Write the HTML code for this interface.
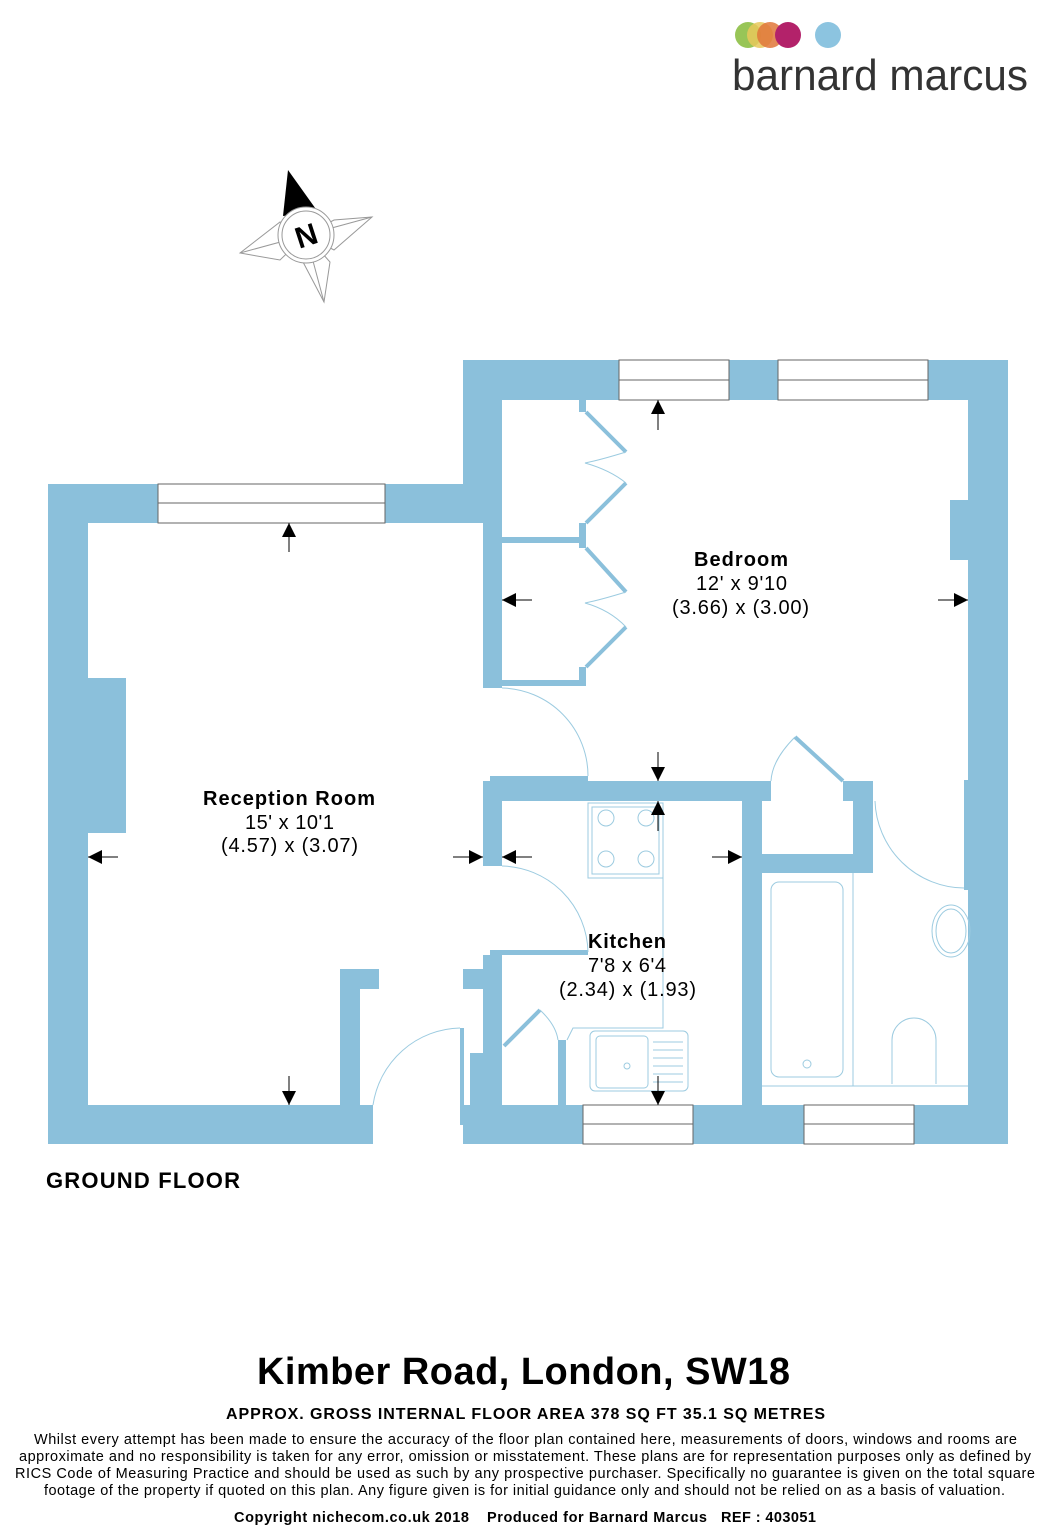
<!DOCTYPE html>
<html><head><meta charset="utf-8"><style>
html,body{margin:0;padding:0;background:#fff;}
body{width:1053px;height:1536px;position:relative;overflow:hidden;font-family:"Liberation Sans",sans-serif;}
</style></head><body>
<svg width="1053" height="1536" viewBox="0 0 1053 1536" xmlns="http://www.w3.org/2000/svg" style="position:absolute;left:0;top:0">
<defs>
<marker id="a" viewBox="0 0 10 10" refX="10" refY="5" markerWidth="14" markerHeight="14" markerUnits="userSpaceOnUse" orient="auto"><path d="M0,0L10,5L0,10z" fill="#000"/></marker>
</defs>
<!-- logo -->
<circle cx="748" cy="35" r="13" fill="#8dbf45" opacity="0.9"/>
<circle cx="760" cy="35" r="13" fill="#e8c85a" opacity="0.85"/>
<circle cx="770" cy="35" r="13" fill="#e0773a" opacity="0.85"/>
<circle cx="788" cy="35" r="13" fill="#b3226a"/>
<circle cx="828" cy="35" r="13" fill="#8cc4e0"/>
<text x="732" y="90" font-family="Liberation Sans,sans-serif" font-size="44" fill="#333" textLength="296" lengthAdjust="spacingAndGlyphs">barnard marcus</text>
<!-- compass -->
<g stroke="#999" stroke-width="1" fill="#fff">
<polygon points="372,217 334,250 306,235 334,220"/><line x1="372" y1="217" x2="306" y2="235"/>
<polygon points="324,302 303,262 306,235 330,262"/><line x1="324" y1="302" x2="306" y2="235"/>
<polygon points="240,253 280,222 306,235 280,260"/><line x1="240" y1="253" x2="306" y2="235"/>
</g>
<polygon points="288,170 318,212 283,216" fill="#000"/>
<circle cx="306" cy="235" r="28" fill="#fff" stroke="#999"/>
<circle cx="306" cy="235" r="24" fill="none" stroke="#999"/>
<text x="306" y="246" font-size="30" font-weight="bold" text-anchor="middle" transform="rotate(-18 306 235)">N</text>
<!-- walls -->
<g fill="#8bc0db">
<rect x="48" y="484" width="415" height="39"/>
<rect x="48" y="484" width="40" height="660"/>
<rect x="88" y="678" width="38" height="155"/>
<rect x="48" y="1105" width="325" height="39"/>
<rect x="340" y="969" width="20" height="140"/>
<rect x="340" y="969" width="39" height="20"/>
<rect x="463" y="360" width="545" height="40"/>
<rect x="463" y="360" width="39" height="163"/>
<rect x="483" y="500" width="19" height="188"/>
<rect x="968" y="360" width="40" height="784"/>
<rect x="950" y="500" width="20" height="60"/>
<rect x="964" y="780" width="6" height="110"/>
<rect x="502" y="537" width="80" height="6"/>
<rect x="502" y="680" width="84" height="6"/>
<rect x="579" y="400" width="7" height="12"/>
<rect x="579" y="523" width="7" height="25"/>
<rect x="579" y="667" width="7" height="19"/>
<rect x="483" y="781" width="288" height="20"/>
<rect x="490" y="776" width="98" height="5"/>
<rect x="483" y="781" width="19" height="85"/>
<rect x="843" y="781" width="30" height="20"/>
<rect x="853" y="781" width="20" height="92"/>
<rect x="762" y="854" width="111" height="19"/>
<rect x="742" y="781" width="20" height="330"/>
<rect x="463" y="969" width="20" height="20"/>
<rect x="483" y="955" width="19" height="155"/>
<rect x="470" y="1053" width="13" height="55"/>
<rect x="463" y="1105" width="545" height="39"/>
<rect x="558" y="1040" width="8" height="70"/>
<rect x="460" y="1028" width="4" height="97"/>
<rect x="490" y="950" width="98" height="5"/>
</g>
<!-- windows -->
<g fill="#fff" stroke="#666" stroke-width="1">
<rect x="158" y="484" width="227" height="39"/><line x1="158" y1="503" x2="385" y2="503"/>
<rect x="619" y="360" width="110" height="40"/><line x1="619" y1="380" x2="729" y2="380"/>
<rect x="778" y="360" width="150" height="40"/><line x1="778" y1="380" x2="928" y2="380"/>
<rect x="583" y="1105" width="110" height="39"/><line x1="583" y1="1124" x2="693" y2="1124"/>
<rect x="804" y="1105" width="110" height="39"/><line x1="804" y1="1124" x2="914" y2="1124"/>
</g>
<!-- doors / fixtures -->
<g fill="none" stroke="#8bc0db" stroke-width="4">
<path d="M586,412L626,452M586,523L626,483M586,548L626,592M586,667L626,627"/>
<path d="M504,1046L540,1010M795,737L843,781"/>
</g>
<g fill="none" stroke="#9ccbe0" stroke-width="1">
<path d="M626,452Q600,460 585,463Q610,470 626,483"/>
<path d="M626,592Q600,600 585,603Q610,610 626,627"/>
<path d="M502,688A88,88 0 0 1 588,776"/>
<path d="M502,866A88,88 0 0 1 588,952"/>
<path d="M373,1105A90,90 0 0 1 460,1028"/>
<path d="M540,1010Q556,1025 558,1040"/>
<path d="M795,737Q772,760 771,781"/>
<path d="M875,801A90,90 0 0 0 964,888"/>
<rect x="588" y="803" width="75" height="75"/><rect x="592" y="807" width="67" height="67"/>
<circle cx="606" cy="818" r="8"/><circle cx="646" cy="818" r="8"/><circle cx="606" cy="859" r="8"/><circle cx="646" cy="859" r="8"/>
<path d="M663,878V1028H573L567,1040"/>
<rect x="590" y="1031" width="98" height="60" rx="5"/><rect x="596" y="1036" width="52" height="52" rx="4"/>
<circle cx="627" cy="1066" r="3"/>
<path d="M653,1042h30M653,1050h30M653,1058h30M653,1066h30M653,1074h30M653,1082h30"/>
<rect x="771" y="882" width="72" height="195" rx="8"/><circle cx="807" cy="1064" r="4"/>
<path d="M853,873V1086M762,1086H968"/>
<ellipse cx="951" cy="931" rx="19" ry="26"/><ellipse cx="951" cy="931" rx="15" ry="22"/>
<path d="M892,1084V1040A22,22 0 0 1 936,1040V1084"/>
</g>
<!-- dimension arrows -->
<g stroke="#000" stroke-width="1" marker-end="url(#a)">
<line x1="289" y1="552" x2="289" y2="523"/>
<line x1="289" y1="1076" x2="289" y2="1105"/>
<line x1="118" y1="857" x2="88" y2="857"/>
<line x1="453" y1="857" x2="483" y2="857"/>
<line x1="532" y1="857" x2="502" y2="857"/>
<line x1="712" y1="857" x2="742" y2="857"/>
<line x1="532" y1="600" x2="502" y2="600"/>
<line x1="938" y1="600" x2="968" y2="600"/>
<line x1="658" y1="430" x2="658" y2="400"/>
<line x1="658" y1="752" x2="658" y2="781"/>
<line x1="658" y1="831" x2="658" y2="801"/>
<line x1="658" y1="1076" x2="658" y2="1105"/>
</g>
<!-- labels -->
<g font-family="Liberation Sans,sans-serif" fill="#000" lengthAdjust="spacingAndGlyphs">
<text x="694" y="566" font-size="20" font-weight="bold" textLength="94">Bedroom</text>
<text x="696" y="590" font-size="20" textLength="91">12' x 9'10</text>
<text x="672" y="614" font-size="20" textLength="137">(3.66) x (3.00)</text>
<text x="203" y="805" font-size="20" font-weight="bold" textLength="172">Reception Room</text>
<text x="245" y="829" font-size="20" textLength="89">15' x 10'1</text>
<text x="221" y="852" font-size="20" textLength="137">(4.57) x (3.07)</text>
<text x="588" y="948" font-size="20" font-weight="bold" textLength="78">Kitchen</text>
<text x="588" y="972" font-size="20" textLength="78">7'8 x 6'4</text>
<text x="559" y="996" font-size="20" textLength="137">(2.34) x (1.93)</text>
<text x="46" y="1188" font-size="22" font-weight="bold" textLength="194">GROUND FLOOR</text>
<text x="257" y="1384" font-size="38" font-weight="bold" textLength="533">Kimber Road, London, SW18</text>
<text x="226" y="1419" font-size="16" font-weight="bold" textLength="599">APPROX. GROSS INTERNAL FLOOR AREA 378 SQ FT 35.1 SQ METRES</text>
<text x="34" y="1444" font-size="14.5" textLength="983">Whilst every attempt has been made to ensure the accuracy of the floor plan contained here, measurements of doors, windows and rooms are</text>
<text x="19" y="1461" font-size="14.5" textLength="1012">approximate and no responsibility is taken for any error, omission or misstatement. These plans are for representation purposes only as defined by</text>
<text x="15" y="1478" font-size="14.5" textLength="1020">RICS Code of Measuring Practice and should be used as such by any prospective purchaser.  Specifically no guarantee is given on the total square</text>
<text x="44" y="1495" font-size="14.5" textLength="961">footage of the property if quoted on this plan. Any figure given is for initial guidance only and should not be relied on as a basis of valuation.</text>
<text x="234" y="1522" font-size="14.5" font-weight="bold" textLength="235">Copyright nichecom.co.uk 2018</text>
<text x="487" y="1522" font-size="14.5" font-weight="bold" textLength="220">Produced for Barnard Marcus</text>
<text x="721" y="1522" font-size="14.5" font-weight="bold" textLength="95">REF : 403051</text>
</g>
</svg>
</body></html>
